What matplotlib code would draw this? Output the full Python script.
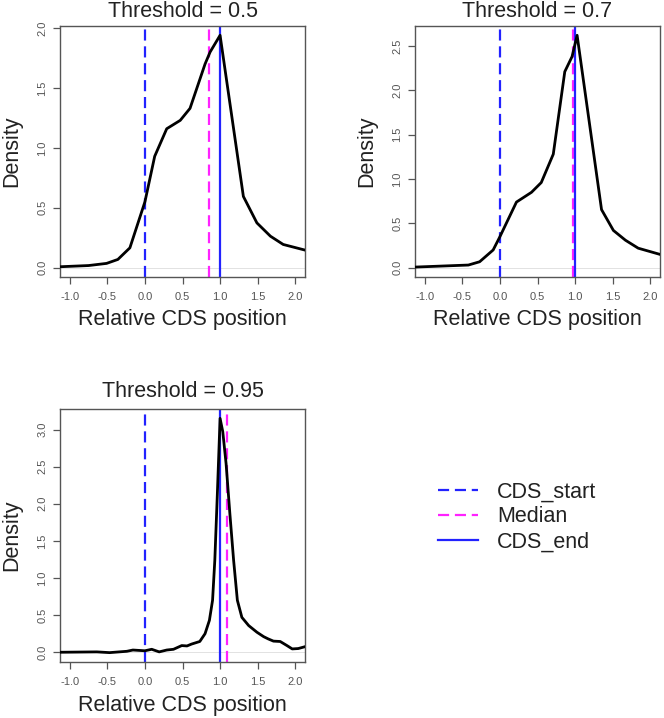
import matplotlib
matplotlib.use("Agg")
import matplotlib.pyplot as plt
from matplotlib.lines import Line2D

plt.rcParams['font.family'] = ['Liberation Sans', 'DejaVu Sans']

# ---- data ----
titles = ["Threshold = 0.5", "Threshold = 0.7", "Threshold = 0.95"]

p1_x = [-1.13, -0.75, -0.51, -0.36, -0.20, 0.00, 0.13, 0.29, 0.47, 0.60, 0.80, 0.867, 1.00, 1.31, 1.49, 1.67, 1.84, 2.13]
p1_y = [0.008, 0.018, 0.036, 0.069, 0.166, 0.55, 0.93, 1.16, 1.23, 1.33, 1.70, 1.80, 1.94, 0.595, 0.374, 0.263, 0.194, 0.147]

p2_x = [-1.13, -0.42, -0.27, -0.09, 0.00, 0.22, 0.42, 0.55, 0.71, 0.863, 0.96, 1.027, 1.352, 1.51, 1.67, 1.84, 2.13]
p2_y = [0.007, 0.03, 0.067, 0.20, 0.35, 0.74, 0.85, 0.96, 1.28, 2.21, 2.38, 2.62, 0.655, 0.42, 0.31, 0.22, 0.15]

p3_x = [-1.13, -0.64, -0.47, -0.24, -0.16, 0.00, 0.09, 0.19, 0.29, 0.38, 0.49, 0.56, 0.62, 0.73, 0.80, 0.858, 0.90, 0.93, 0.964, 1.00,
        1.036, 1.08, 1.13, 1.18, 1.23, 1.29, 1.38, 1.49, 1.58, 1.64, 1.71, 1.80, 1.89, 1.96, 2.04, 2.13]
p3_y = [0.0, 0.005, -0.005, 0.013, 0.03, 0.02, 0.04, 0.005, 0.03, 0.04, 0.09, 0.085, 0.11, 0.145, 0.25, 0.43, 0.70, 1.24, 2.14, 3.15,
        2.97, 2.54, 1.87, 1.24, 0.70, 0.47, 0.36, 0.27, 0.21, 0.18, 0.15, 0.145, 0.09, 0.045, 0.05, 0.075]

cds_start = 0.0
cds_end = 1.0
medians = [0.858, 0.973, 1.098]

xticks = [-1.0, -0.5, 0.0, 0.5, 1.0, 1.5, 2.0]
yticks = [[0.0, 0.5, 1.0, 1.5, 2.0],
          [0.0, 0.5, 1.0, 1.5, 2.0, 2.5],
          [0.0, 0.5, 1.0, 1.5, 2.0, 2.5, 3.0]]
legend_labels = ["CDS_start", "Median", "CDS_end"]

curves = [(p1_x, p1_y), (p2_x, p2_y), (p3_x, p3_y)]

W, H = 664, 718
fig = plt.figure(figsize=(W / 100, H / 100), dpi=100)

boxes = [(60, 26, 305, 277), (415, 26, 660, 277), (60, 409, 305, 662)]
title_off = [14, 14, 17]

BLUE = "#2222ff"
MAG = "#ff22ff"
FRAME = "#555555"
FS = 15.5
DASH = (0, (5, 2.6))

for i, (l, t, r, b) in enumerate(boxes):
    ax = fig.add_axes([l / W, 1 - b / H, (r - l) / W, (b - t) / H])
    xs, ys = curves[i]
    ymax, ymin = max(ys), min(0.0, min(ys))
    rng = ymax - ymin
    ax.set_ylim(ymin - 0.04 * rng, ymax + 0.04 * rng)
    ax.set_xlim(-1.13, 2.13)
    ax.axhline(0, color="#dddddd", lw=0.6, zorder=1)
    ax.plot(xs, ys, color="black", lw=2.0, zorder=3)
    ax.axvline(cds_start, color=BLUE, lw=1.6, ls=DASH, zorder=2)
    ax.axvline(medians[i], color=MAG, lw=1.6, ls=DASH, zorder=2)
    ax.axvline(cds_end, color=BLUE, lw=1.6, zorder=2)
    ax.set_xticks(xticks)
    ax.set_xticklabels([f"{v:.1f}" for v in xticks])
    ax.set_yticks(yticks[i])
    ax.set_yticklabels([f"{v:.1f}" for v in yticks[i]], rotation=90, va="center")
    ax.tick_params(axis="both", length=5, width=0.9, color=FRAME, labelsize=8,
                   labelcolor="#555555")
    ax.tick_params(axis="x", pad=6)
    ax.tick_params(axis="y", pad=4)
    for s in ax.spines.values():
        s.set_color(FRAME)
        s.set_linewidth(1.0)
    ax.text(0.5, 1 + title_off[i] / (b - t), titles[i], transform=ax.transAxes,
            ha="center", va="center", fontsize=FS, color="#222222")
    ax.text(0.5, -43 / (b - t), "Relative CDS position", transform=ax.transAxes,
            ha="center", va="center", fontsize=FS, color="#222222")
    ax.text(-48 / (r - l), 0.5, "Density", transform=ax.transAxes, rotation=90,
            ha="center", va="center", fontsize=FS, color="#222222")

handles = [Line2D([], [], color=BLUE, lw=1.6, ls=DASH),
           Line2D([], [], color=MAG, lw=1.6, ls=DASH),
           Line2D([], [], color=BLUE, lw=1.6)]
fig.legend(handles, legend_labels, loc="center left",
           bbox_to_anchor=(438 / W, 1 - 517 / H), frameon=False,
           fontsize=FS, handlelength=1.86, handletextpad=0.88, labelspacing=0.18,
           borderpad=0, borderaxespad=0, labelcolor="#222222")

fig.savefig("out.png", dpi=100)
